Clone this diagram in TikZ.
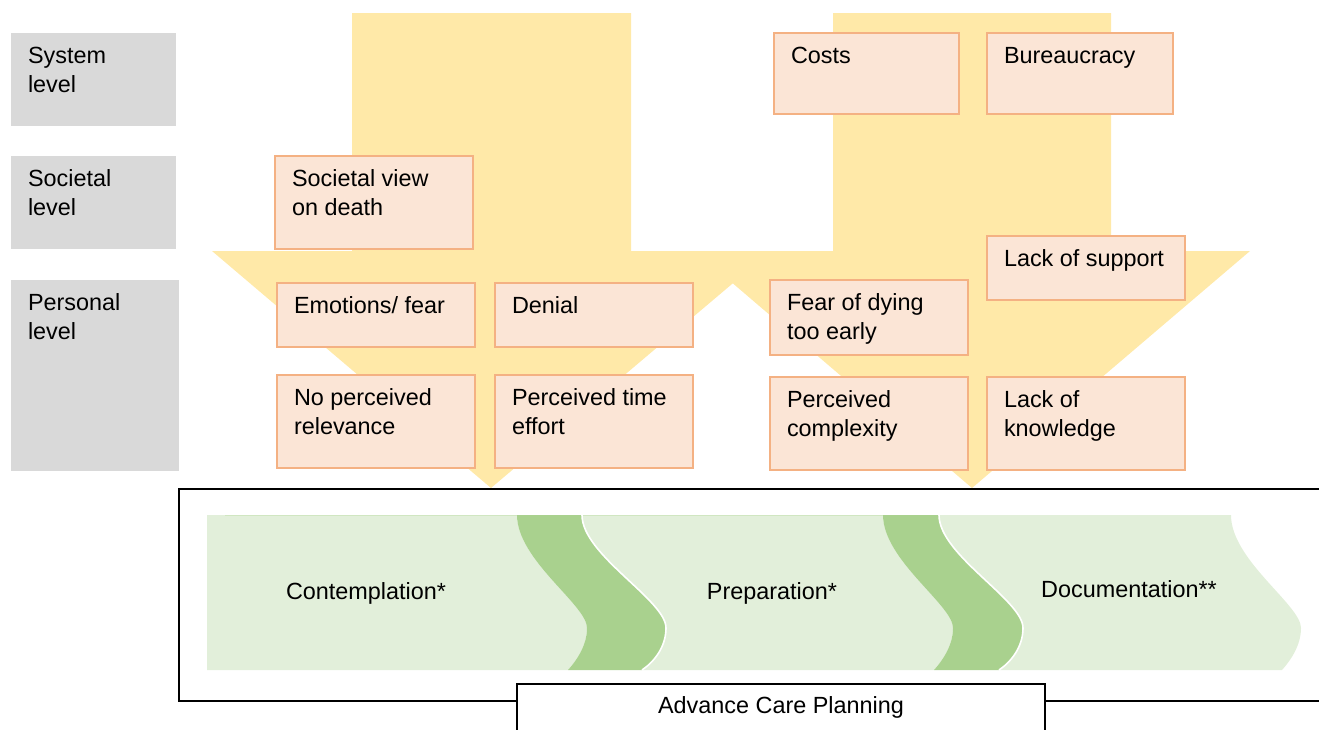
\documentclass[tikz,border=0pt]{standalone}
\usepackage{fontspec}
\setmainfont{Liberation Sans}
\usetikzlibrary{calc}

\definecolor{arrowfill}{RGB}{255,233,168}
\definecolor{factorfill}{RGB}{251,229,214}
\definecolor{factorline}{RGB}{244,177,131}
\definecolor{levelfill}{RGB}{217,217,217}
\definecolor{stagefill}{RGB}{226,239,218}
\definecolor{stagejoin}{RGB}{169,209,142}

% wave edges of the process band (top at y=515, bottom at y=670)
\newcommand{\smalldown}[1]{-- (#1,515) .. controls (#1,560) and (#1+70,605) .. (#1+70,628) .. controls (#1+70,645) and (#1+60,660) .. (#1+51,670)}
\newcommand{\bigdown}[1]{-- (#1,515) .. controls (#1,555) and (#1+84,600) .. (#1+84,628) .. controls (#1+84,647) and (#1+72,662) .. (#1+60,670)}
\newcommand{\bigup}[1]{-- (#1+60,670) .. controls (#1+72,662) and (#1+84,647) .. (#1+84,628) .. controls (#1+84,600) and (#1,555) .. (#1,515)}

% left-aligned lines whose baseline is the first line
\newcommand{\lines}[1]{\begin{tabular}[t]{@{}l@{}}#1\end{tabular}}

% one barrier box: name, x, y (top left), width, height, text
\newcommand{\factor}[6]{%
  \node[factorbox, minimum width=#4pt, minimum height=#5pt] (#1) at (#2,#3) {};
  \node[boxtext] (#1-text) at ($(#1.north west)+(17,30)$) {\lines{#6}};
}
% one level label: name, y (top), width, height, text
\newcommand{\levelrow}[5]{%
  \node[levelbox, minimum width=#3pt, minimum height=#4pt] (#1) at (11,#2) {};
  \node[boxtext] (#1-text) at ($(#1.north west)+(17,30)$) {\lines{#5}};
}

\tikzset{
  every node/.style={font=\fontsize{23.4}{29}\selectfont, inner sep=0pt, outer sep=0pt},
  levelbox/.style={fill=levelfill, draw=none, anchor=north west},
  factorbox/.style={fill=factorfill, draw=factorline, line width=1.5pt, anchor=north west},
  boxtext/.style={anchor=base west},
  bigarrow/.style={fill=arrowfill, draw=none},
  stageedge/.style={draw=white, line width=1.6pt},
  stagelabel/.style={anchor=base},
}

\begin{document}
\begin{tikzpicture}[x=1pt, y=-1pt]
\useasboundingbox (0,0) rectangle (1319,729);

% two downward arrows
\fill[bigarrow] (352,13) -- (631,13) -- (631,251) -- (771,251) -- (491,488) -- (212,251) -- (352,251) -- cycle;
\fill[bigarrow] (833,13) -- (1111,13) -- (1111,251) -- (1250,251) -- (972,488) -- (695,251) -- (833,251) -- cycle;

% levels
\levelrow{system}{33}{165}{93}{System\\level}
\levelrow{societal}{156}{165}{93}{Societal\\level}
\levelrow{personal}{280}{168}{191}{Personal\\level}

% barriers, left arrow
\factor{society}{275}{156}{198}{93}{Societal view\\on death}
\factor{emotions}{277}{283}{198}{64}{Emotions/ fear}
\factor{denial}{495}{283}{198}{64}{Denial}
\factor{relevance}{277}{375}{198}{93}{No perceived\\relevance}
\factor{timeeffort}{495}{375}{198}{93}{Perceived time\\effort}

% barriers, right arrow
\factor{costs}{774}{33}{185}{81}{Costs}
\factor{bureaucracy}{987}{33}{186}{81}{Bureaucracy}
\factor{support}{987}{236}{198}{64}{Lack of support}
\factor{dying}{770}{280}{198}{75}{Fear of dying\\too early}
\factor{complexity}{770}{377}{198}{93}{Perceived\\complexity}
\factor{knowledge}{987}{377}{198}{93}{Lack of\\knowledge}

% frame around the process
\draw[line width=2pt] (1330,489) -- (179,489) -- (179,701) -- (1330,701);

% process band
\fill[stagefill] (207,515) \smalldown{517} -- (207,670) -- cycle;
\fill[stagejoin] (517,515) \smalldown{517} \bigup{582} -- cycle;
\fill[stagefill] (582,515) \smalldown{883} \bigup{582} -- cycle;
\fill[stagejoin] (883,515) \smalldown{883} \bigup{939} -- cycle;
\fill[stagefill] (939,515) \smalldown{1231} \bigup{939} -- cycle;
\draw[stagejoin!55, line width=0.8pt] (225,515) -- (517,515);
\draw[stagejoin!55, line width=0.8pt] (582,515) -- (883,515);
\draw[stageedge] (582,515) \bigdown{582};
\draw[stageedge] (939,515) \bigdown{939};

\node[stagelabel] (contemplation) at (366,599) {Contemplation*};
\node[stagelabel] (preparation) at (772,599) {Preparation*};
\node[stagelabel] (documentation) at (1129,597) {Documentation**};

% title tab
\node[draw, fill=white, line width=1.5pt, anchor=north west, minimum width=528pt, minimum height=70pt] (acp) at (517,684) {};
\node[stagelabel] (acp-text) at (781,713) {Advance Care Planning};
\end{tikzpicture}
\end{document}
